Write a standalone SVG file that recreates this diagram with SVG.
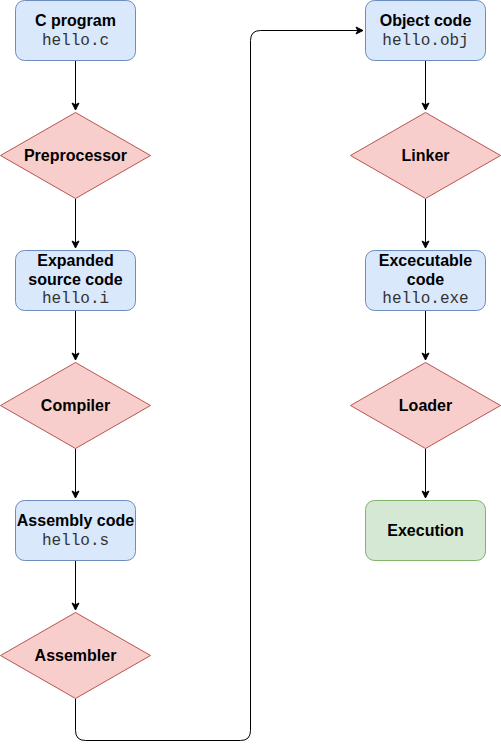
<svg xmlns="http://www.w3.org/2000/svg" width="501" height="750" viewBox="0 0 501 750">
<style>
.box{fill:#dae8fc;stroke:#6c8ebf;stroke-width:1}
.dia{fill:#f8cecc;stroke:#b85450;stroke-width:1}
.ok{fill:#d5e8d4;stroke:#82b366;stroke-width:1}
.t{font-family:"Liberation Sans",Arial,sans-serif;font-size:16px;font-weight:bold;fill:#000;text-anchor:middle}
.m{font-family:"Liberation Mono","Courier New",monospace;font-size:16px;fill:#333;text-anchor:middle}
.e{fill:none;stroke:#000;stroke-width:1}
</style>
<defs>
<marker id="ah" markerWidth="10" markerHeight="10" refX="8" refY="5" orient="auto" markerUnits="userSpaceOnUse">
<path d="M1,1.5 L8,5 L1,8.5 L2.8,5 Z" fill="#000" stroke="#000" stroke-width="1"/>
</marker>
</defs>
<rect width="501" height="750" fill="#fff"/>
<g id="connectors">
<path class="e" d="M75.5,60.5 V110" marker-end="url(#ah)"/>
<path class="e" d="M75.5,198.5 V248" marker-end="url(#ah)"/>
<path class="e" d="M75.5,310.5 V360" marker-end="url(#ah)"/>
<path class="e" d="M75.5,448.5 V498" marker-end="url(#ah)"/>
<path class="e" d="M75.5,560.5 V610" marker-end="url(#ah)"/>
<path class="e" d="M75.5,698.5 V730.5 Q75.5,740.5 85.5,740.5 H240.5 Q250.5,740.5 250.5,730.5 V40.5 Q250.5,30.5 260.5,30.5 H363" marker-end="url(#ah)"/>
<path class="e" d="M425.5,60.5 V110" marker-end="url(#ah)"/>
<path class="e" d="M425.5,198.5 V248" marker-end="url(#ah)"/>
<path class="e" d="M425.5,310.5 V360" marker-end="url(#ah)"/>
<path class="e" d="M425.5,448.5 V498" marker-end="url(#ah)"/>
</g>
<g id="cprogram">
<rect class="box" x="15.5" y="0.5" width="120" height="60" rx="9"/>
<text class="t" x="75.5" y="26">C program</text>
<text class="m" x="75.5" y="45">hello.c</text>
</g>
<g id="preprocessor">
<path class="dia" d="M75.5,112.5 L150.5,155.5 L75.5,198.5 L0.5,155.5 Z"/>
<text class="t" x="75.5" y="161">Preprocessor</text>
</g>
<g id="expanded">
<rect class="box" x="15.5" y="250.5" width="120" height="60" rx="9"/>
<text class="t" x="75.5" y="266">Expanded</text>
<text class="t" x="75.5" y="285">source code</text>
<text class="m" x="75.5" y="303">hello.i</text>
</g>
<g id="compiler">
<path class="dia" d="M75.5,362.5 L150.5,405.5 L75.5,448.5 L0.5,405.5 Z"/>
<text class="t" x="75.5" y="411">Compiler</text>
</g>
<g id="assembly">
<rect class="box" x="15.5" y="500.5" width="120" height="60" rx="9"/>
<text class="t" x="75.5" y="526">Assembly code</text>
<text class="m" x="75.5" y="545">hello.s</text>
</g>
<g id="assembler">
<path class="dia" d="M75.5,612.5 L150.5,655.5 L75.5,698.5 L0.5,655.5 Z"/>
<text class="t" x="75.5" y="661">Assembler</text>
</g>
<g id="object">
<rect class="box" x="365.5" y="0.5" width="120" height="60" rx="9"/>
<text class="t" x="425.5" y="26">Object code</text>
<text class="m" x="425.5" y="45">hello.obj</text>
</g>
<g id="linker">
<path class="dia" d="M425.5,112.5 L500.5,155.5 L425.5,198.5 L350.5,155.5 Z"/>
<text class="t" x="425.5" y="161">Linker</text>
</g>
<g id="executable">
<rect class="box" x="365.5" y="250.5" width="120" height="60" rx="9"/>
<text class="t" x="425.5" y="266">Excecutable</text>
<text class="t" x="425.5" y="285">code</text>
<text class="m" x="425.5" y="303">hello.exe</text>
</g>
<g id="loader">
<path class="dia" d="M425.5,362.5 L500.5,405.5 L425.5,448.5 L350.5,405.5 Z"/>
<text class="t" x="425.5" y="411">Loader</text>
</g>
<g id="execution">
<rect class="ok" x="365.5" y="500.5" width="120" height="60" rx="9"/>
<text class="t" x="425.5" y="536">Execution</text>
</g>
</svg>
